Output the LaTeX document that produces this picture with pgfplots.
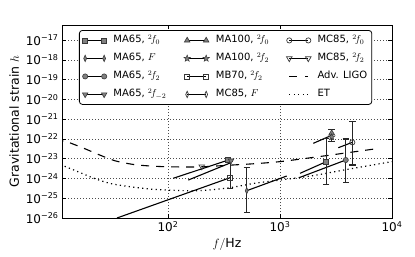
\documentclass[border=0pt]{standalone}
\usepackage{fontspec}
\setmainfont{DejaVu Sans}
\usepackage{pgfplots}
\pgfplotsset{compat=1.18}
\definecolor{mk}{gray}{0.5}
\definecolor{me}{gray}{0.22}
\pgfdeclareplotmark{fstar}{%
  \pgfpathmoveto{\pgfqpointpolar{90}{\pgfplotmarksize}}%
  \pgfpathlineto{\pgfqpointpolar{126}{0.42\pgfplotmarksize}}%
  \pgfpathlineto{\pgfqpointpolar{162}{\pgfplotmarksize}}%
  \pgfpathlineto{\pgfqpointpolar{198}{0.42\pgfplotmarksize}}%
  \pgfpathlineto{\pgfqpointpolar{234}{\pgfplotmarksize}}%
  \pgfpathlineto{\pgfqpointpolar{270}{0.42\pgfplotmarksize}}%
  \pgfpathlineto{\pgfqpointpolar{306}{\pgfplotmarksize}}%
  \pgfpathlineto{\pgfqpointpolar{342}{0.42\pgfplotmarksize}}%
  \pgfpathlineto{\pgfqpointpolar{18}{\pgfplotmarksize}}%
  \pgfpathlineto{\pgfqpointpolar{54}{0.42\pgfplotmarksize}}%
  \pgfpathclose\pgfusepathqfillstroke}
\pgfplotsset{
  seg/.style={black, line width=1.1pt, mark=none, forget plot},
  mA/.style={mark=square*, mark size=2.5pt, mark options={solid, sharp corners, fill=mk, draw=me, line width=0.6pt}},
  mF/.style={mark=diamond*, mark size=3.2pt, mark options={solid, sharp corners, fill=mk, draw=me, xscale=0.6, line width=0.6pt}},
  mB/.style={mark=*, mark size=2.6pt, mark options={solid, fill=mk, draw=me, line width=0.6pt}},
  mC/.style={mark=triangle*, mark size=3.2pt, mark options={solid, sharp corners, fill=mk, draw=me, rotate=180, line width=0.6pt}},
  mD/.style={mark=triangle*, mark size=3.2pt, mark options={solid, sharp corners, fill=mk, draw=me, line width=0.6pt}},
  mE/.style={mark=fstar, mark size=3.4pt, mark options={solid, sharp corners, fill=mk, draw=me, line width=0.5pt}},
  mG/.style={mark=square, mark size=2.5pt, mark options={solid, sharp corners, draw=me, line width=0.7pt}},
  mH/.style={mark=diamond, mark size=3.2pt, mark options={solid, sharp corners, draw=me, xscale=0.6, line width=0.7pt}},
  mI/.style={mark=o, mark size=2.6pt, mark options={solid, draw=me, line width=0.7pt}},
  mJ/.style={mark=triangle, mark size=3.2pt, mark options={solid, sharp corners, draw=me, rotate=180, line width=0.7pt}},
  eb/.style={only marks, forget plot, error bars/.cd, y dir=both, y explicit,
    error bar style={line width=1.1pt, black!85},
    error mark options={rotate=90, mark size=3.2pt, line width=1.1pt, black!85}},
}
\begin{document}
\begin{tikzpicture}
\path[use as bounding box] (0,0) rectangle (415pt,257pt);
\begin{axis}[
  at={(62pt,39pt)}, anchor=south west,
  scale only axis, width=330pt, height=193pt,
  xmode=log, ymode=log, log basis x=10, log basis y=10,
  xmin=11.3, xmax=10000, ymin=1e-26, ymax=5.75e-17,
  ytick={1e-26,1e-25,1e-24,1e-23,1e-22,1e-21,1e-20,1e-19,1e-18,1e-17},
  xtick={100,1000,10000},
  xticklabel={\pgfmathtruncatemacro\e{round(\tick)}10\textsuperscript{\e}},
  yticklabel={\pgfmathtruncatemacro\e{round(abs(\tick))}10\textsuperscript{−\e}},
  tick label style={font=\fontsize{12}{14}\selectfont},
  tick align=inside,
  major tick length=4pt, minor tick length=2pt,
  tick style={black, line width=0.6pt},
  axis line style={line width=0.9pt},
  grid=major,
  grid style={black!70, line width=0.5pt, dash pattern=on 1pt off 2pt},
  xlabel={$f/\mathrm{Hz}$},
  ylabel={Gravitational strain $h$},
  label style={font=\fontsize{12.5}{14}\selectfont},
  legend columns=3,
  legend image code/.code={\draw[sharp corners, #1] plot coordinates {(0pt,0pt) (19pt,0pt)};},
  legend style={at={(0.0515,0.974)}, anchor=north west,
    font=\fontsize{10}{12}\selectfont, draw=black, line width=0.8pt,
    rounded corners=3pt,
    inner xsep=3pt, inner ysep=3pt, row sep=4pt,
    cells={anchor=west},
    nodes={text height=8pt, text depth=3pt, inner sep=1.5pt},
    /tikz/every even column/.append style={column sep=16pt},
    /tikz/every odd column/.append style={column sep=5pt}},
]
% legend entries (row-wise order)
\addlegendimage{black, line width=1pt, mA}\addlegendentry{MA65, $^2\!f_0$}
\addlegendimage{black, line width=1pt, mD}\addlegendentry{MA100, $^2\!f_0$}
\addlegendimage{black, line width=1pt, mI}\addlegendentry{MC85, $^2\!f_0$}
\addlegendimage{black, line width=1pt, mF}\addlegendentry{MA65, $F$}
\addlegendimage{black, line width=1pt, mE}\addlegendentry{MA100, $^2\!f_2$}
\addlegendimage{black, line width=1pt, mJ}\addlegendentry{MC85, $^2\!f_2$}
\addlegendimage{black, line width=1pt, mB}\addlegendentry{MA65, $^2\!f_2$}
\addlegendimage{black, line width=1pt, mG}\addlegendentry{MB70, $^2\!f_2$}
\addlegendimage{black, line width=1.1pt, dash pattern=on 8pt off 8pt}\addlegendentry{Adv. LIGO}
\addlegendimage{black, line width=1pt, mC}\addlegendentry{MA65, $^2\!f_{-2}$}
\addlegendimage{black, line width=1pt, mH}\addlegendentry{MC85, $F$}
\addlegendimage{black, line width=1.2pt, dash pattern=on 1.2pt off 3.3pt}\addlegendentry{ET}

% Adv. LIGO
\addplot[black, line width=1.1pt, dash pattern=on 8pt off 7pt, smooth, forget plot] coordinates {
(10,5.6e-23) (11.6,7.9e-23) (16.4,4.0e-23) (24.7,1.51e-23) (33.7,7.8e-24) (49,5.1e-24)
(69,4.27e-24) (97.5,3.9e-24) (147,3.8e-24) (205,3.9e-24) (380,4.8e-24) (600,5.6e-24)
(1000,7.1e-24) (2000,1.17e-23) (4000,2.0e-23) (7300,3.2e-23)};
% ET
\addplot[black, line width=1.2pt, dash pattern=on 1.2pt off 3.3pt, smooth, forget plot] coordinates {
(10,5.6e-24) (11.5,4.47e-24) (16,2.09e-24) (23,9.1e-25) (32,5.25e-25) (48,3.7e-25)
(70,2.88e-25) (100,2.57e-25) (150,2.4e-25) (200,2.45e-25) (300,3.0e-25) (400,3.8e-25)
(600,5.75e-25) (1000,8.3e-25) (2000,1.41e-24) (4000,2.88e-24) (10000,7.1e-24)};

% signal segments
\addplot[seg] coordinates {(35,1e-26) (358,1.09e-24)};
\addplot[seg] coordinates {(111.5,1.02e-24) (345,8.55e-24)};
\addplot[seg] coordinates {(151.6,8.3e-25) (358,6.04e-24)};
\addplot[seg] coordinates {(504,2.4e-25) (1148,1.33e-24)};
\addplot[seg] coordinates {(1982,5.98e-23) (2930,1.57e-22)};
\addplot[seg] coordinates {(1510,1.82e-24) (2577,7.0e-24)};
\addplot[seg] coordinates {(1510,1.14e-24) (3866,8.55e-24)};
\addplot[seg] coordinates {(3315,3.58e-23) (4422,6.71e-23)};

% markers with error bars
\addplot[mG, eb] coordinates {(358,1.09e-24) += (0,5.91e-24) -= (0,7.7e-25)};
\addplot[mF, eb] coordinates {(504,2.4e-25) += (0,3.42e-24) -= (0,2.21e-25)};
\addplot[mD, eb] coordinates {(2894,1.98e-22) += (0,1.07e-22) -= (0,1.26e-22)};
\addplot[mA, eb] coordinates {(2577,7.0e-24) += (0,1.0e-22) -= (0,6.48e-24)};
\addplot[mB, eb] coordinates {(3866,8.55e-24) += (0,9.0e-23) -= (0,7.91e-24)};
\addplot[mI, eb] coordinates {(4422,6.71e-23) += (0,6.72e-22) -= (0,6.23e-23)};
% markers without error bars
\addplot[only marks, forget plot, mJ] coordinates {(200,4.0e-24)};
\addplot[only marks, forget plot, mE] coordinates {(2894,1.25e-22)};
\addplot[only marks, forget plot, mA] coordinates {(345,8.6e-24)};
\addplot[only marks, forget plot, mC] coordinates {(365,8.0e-24)};
\end{axis}
\end{tikzpicture}
\end{document}
